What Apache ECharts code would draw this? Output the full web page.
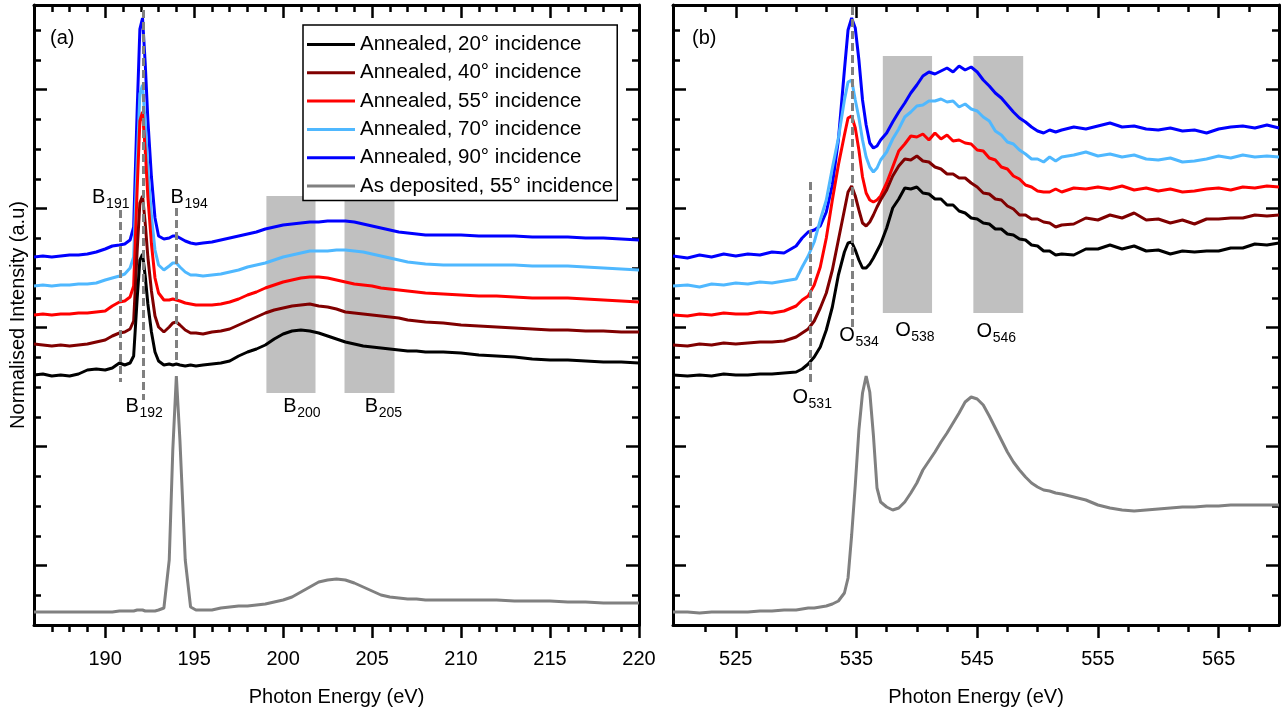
<!DOCTYPE html>
<html>
<head>
<meta charset="UTF-8">
<title>NEXAFS B K-edge and O K-edge</title>
<script src="https://cdn.jsdelivr.net/npm/echarts@6/dist/echarts.min.js"></script>
</head>
<body style="margin:0;background:#fff;">
<div id="main" style="width:1284px;height:711px;"></div>
<script>
const FONT = '"Liberation Sans", Arial, Helvetica, sans-serif';

// legend names and colours
const names = ['Annealed, 20° incidence', 'Annealed, 40° incidence', 'Annealed, 55° incidence',
  'Annealed, 70° incidence', 'Annealed, 90° incidence', 'As deposited, 55° incidence'];
const colors = ['#000000', '#800000', '#ff0000', '#4fb8ff', '#0000ff', '#808080'];

// ---- panel (a): B K-edge ----
const xB = [186, 186.5, 187, 187.5, 188, 188.5, 189, 189.5, 190, 190.4, 190.8,
  191.1, 191.4, 191.6, 191.8, 191.95, 192.1, 192.25, 192.4, 192.6, 192.8,
  193.0, 193.3, 193.6, 193.8, 194.0, 194.2, 194.5, 194.8, 195.1, 195.5,
  196, 196.5, 197, 197.5, 198, 198.5, 199, 199.5, 200, 200.5, 201, 201.5, 202, 202.5,
  203, 203.5, 204, 204.5, 205, 205.5, 206, 206.5, 207, 207.5,
  208, 209, 210, 211, 212, 213, 214, 215, 216, 217, 218, 219, 220];
const yB20 = [25.0, 25.1, 24.9, 25.0, 24.9, 25.1, 25.5, 25.6, 25.5, 25.7, 26.2,
  26.0, 26.2, 26.9, 32.7, 36.5, 37.1, 34.9, 32.1, 29.3, 27.3,
  26.4, 26.0, 26.1, 26.0, 26.1, 26.0, 25.9, 26.0, 25.9, 26.0,
  26.1, 26.2, 26.4, 26.9, 27.3, 27.6, 28.0, 28.6, 29.1, 29.4, 29.5, 29.4, 29.2, 28.9,
  28.6, 28.3, 28.1, 27.9, 27.8, 27.7, 27.6, 27.5, 27.4, 27.4,
  27.3, 27.3, 27.2, 27.0, 26.9, 26.8, 26.6, 26.5, 26.5, 26.4, 26.3, 26.3, 26.2];
const yB40 = [28.1, 28.0, 27.9, 28.0, 27.9, 28.0, 28.1, 28.3, 28.5, 28.9, 29.2,
  29.3, 29.6, 30.4, 37.5, 42.2, 42.9, 40.2, 36.8, 33.4, 30.9,
  29.8, 29.3, 29.8, 30.2, 30.3, 30.0, 29.5, 29.2, 29.2, 29.1,
  29.3, 29.4, 29.6, 30.0, 30.4, 30.8, 31.2, 31.5, 31.7, 31.9, 32.0, 32.1, 31.9, 31.8,
  31.6, 31.3, 31.2, 31.1, 31.0, 30.9, 30.8, 30.7, 30.5, 30.4,
  30.3, 30.2, 30.0, 29.9, 29.8, 29.7, 29.6, 29.5, 29.5, 29.4, 29.4, 29.3, 29.3];
const yB55 = [31.0, 31.1, 31.0, 31.1, 31.1, 31.2, 31.2, 31.3, 31.4, 31.9, 32.3,
  32.4, 32.8, 33.9, 43.7, 50.4, 51.3, 47.5, 42.8, 38.1, 34.7,
  33.2, 32.5, 32.5, 32.6, 32.5, 32.4, 32.2, 32.1, 32.0, 32.0,
  32.0, 32.1, 32.3, 32.6, 33.0, 33.3, 33.7, 34.0, 34.3, 34.5, 34.7, 34.8, 34.8, 34.7,
  34.5, 34.3, 34.1, 34.0, 33.9, 33.7, 33.6, 33.5, 33.4, 33.3,
  33.2, 33.1, 33.0, 32.9, 32.9, 32.8, 32.7, 32.7, 32.7, 32.6, 32.5, 32.4, 32.3];
const yB70 = [33.9, 34.0, 33.9, 34.0, 34.0, 34.1, 34.1, 34.2, 34.5, 34.7, 34.9,
  35.1, 35.7, 36.8, 46.5, 53.1, 54.0, 50.3, 45.6, 40.9, 37.5,
  36.0, 35.5, 35.9, 36.2, 36.2, 35.8, 35.3, 35.0, 35.0, 34.9,
  35.0, 35.1, 35.3, 35.5, 35.8, 36.0, 36.2, 36.5, 36.8, 37.0, 37.2, 37.4, 37.4, 37.4,
  37.5, 37.5, 37.4, 37.3, 37.1, 36.9, 36.7, 36.5, 36.3, 36.2,
  36.1, 36.0, 36.0, 36.0, 36.0, 36.0, 35.9, 35.9, 35.9, 35.8, 35.7, 35.6, 35.5];
const yB90 = [36.8, 36.9, 36.8, 36.9, 37.0, 37.0, 37.1, 37.3, 37.6, 37.9, 38.0,
  38.1, 38.5, 39.8, 51.6, 59.6, 60.7, 56.2, 50.5, 44.8, 40.7,
  38.9, 38.6, 38.7, 38.9, 38.9, 38.7, 38.4, 38.2, 38.1, 38.2,
  38.3, 38.5, 38.7, 38.9, 39.1, 39.3, 39.6, 39.8, 40.0, 40.1, 40.2, 40.3, 40.3, 40.4,
  40.4, 40.4, 40.3, 40.1, 39.9, 39.7, 39.5, 39.3, 39.2, 39.1,
  39.0, 39.0, 39.0, 38.9, 38.9, 38.9, 38.8, 38.8, 38.8, 38.7, 38.7, 38.6, 38.5];
const yBdep = [1.3, 1.3, 1.3, 1.3, 1.3, 1.3, 1.3, 1.3, 1.3, 1.3, 1.4,
  1.4, 1.4, 1.4, 1.5, 1.5, 1.5, 1.4, 1.4, 1.4, 1.4,
  1.5, 1.7, 6.5, 17.5, 24.9, 18.5, 6.5, 1.8, 1.5, 1.5,
  1.5, 1.7, 1.8, 1.9, 1.9, 2.0, 2.1, 2.3, 2.5, 2.8, 3.3, 3.8, 4.3, 4.5,
  4.6, 4.5, 4.2, 3.8, 3.4, 3.0, 2.8, 2.7, 2.6, 2.6,
  2.5, 2.5, 2.5, 2.5, 2.5, 2.4, 2.4, 2.4, 2.3, 2.3, 2.2, 2.2, 2.2];

// ---- panel (b): O K-edge ----
const xO = [519.8, 521, 522, 523, 524, 525, 526, 527, 528, 529, 530,
  530.5, 531, 531.5, 532, 532.5, 533, 533.5, 534,
  534.3, 534.6, 534.9, 535.2, 535.5, 535.8, 536.1, 536.4, 536.7, 537,
  537.5, 538, 538.5, 539, 539.5, 540, 540.5, 541, 541.5, 542, 542.5, 543, 543.5, 544, 544.5,
  545, 545.5, 546, 546.5, 547, 547.5, 548, 548.5, 549, 549.5, 550, 550.5, 551, 551.5, 552,
  553, 554, 555, 556, 557, 558, 559, 560, 561, 562, 563, 564, 565, 566, 567, 568, 569, 570];
const yO20 = [25.0, 24.9, 25.0, 24.9, 25.1, 25.0, 25.0, 25.1, 25.1, 25.2, 25.3,
  25.6, 26.1, 26.8, 27.8, 29.5, 31.8, 35.0, 37.3,
  38.2, 38.3, 37.5, 36.5, 35.7, 35.7, 36.1, 36.7, 37.4, 38.1,
  39.7, 41.7, 42.6, 43.7, 43.6, 43.8, 43.2, 43.1, 42.6, 42.6, 42.0, 42.0, 41.4, 41.2, 40.7,
  40.6, 40.2, 40.1, 39.6, 39.6, 39.1, 39.0, 38.6, 38.5, 38.0, 37.9, 37.4, 37.4, 37.0, 37.1,
  37.0, 37.6, 37.6, 38.0, 37.6, 37.9, 37.4, 37.5, 37.1, 37.4, 37.3, 37.4, 37.4, 37.7, 37.7, 38.1, 38.0, 38.2];
const yO40 = [28.0, 27.9, 28.1, 28.0, 28.2, 28.1, 28.2, 28.3, 28.3, 28.4, 28.8,
  29.2, 29.6, 30.4, 31.7, 33.2, 35.5, 38.5, 41.5,
  43.3, 43.9, 42.9, 41.5, 40.2, 39.9, 40.3, 41.0, 41.8, 42.5,
  43.5, 44.9, 45.9, 46.6, 46.5, 46.9, 46.4, 46.3, 45.8, 45.6, 45.1, 45.1, 44.7, 44.7, 44.2,
  43.8, 43.2, 43.1, 42.6, 42.5, 41.9, 41.6, 41.0, 41.0, 40.6, 40.6, 40.3, 40.2, 39.8, 40.0,
  40.1, 40.7, 40.5, 41.0, 40.7, 41.2, 40.5, 40.6, 40.2, 40.5, 40.1, 40.6, 40.6, 40.7, 40.7, 41.0, 40.9, 41.0];
const yO55 = [31.0, 30.9, 31.1, 31.0, 31.2, 31.1, 31.1, 31.3, 31.2, 31.4, 31.9,
  32.5, 32.9, 34.0, 35.8, 38.7, 42.5, 46.0, 49.0,
  50.7, 50.9, 49.7, 47.5, 44.8, 43.2, 42.5, 42.3, 42.5, 42.9,
  44.2, 45.8, 47.4, 48.1, 48.9, 48.8, 49.1, 48.5, 49.2, 48.6, 49.0, 48.4, 48.5, 48.2, 48.1,
  47.5, 47.4, 46.7, 46.5, 45.8, 45.6, 44.9, 44.6, 44.0, 43.8, 43.4, 43.3, 43.3, 43.6, 43.3,
  43.7, 43.6, 43.8, 43.6, 43.9, 43.5, 43.7, 43.4, 43.6, 43.3, 43.4, 43.6, 43.7, 43.5, 43.8, 43.7, 43.9, 43.8];
const yO70 = [33.9, 34.0, 33.8, 34.1, 34.0, 34.2, 34.1, 34.3, 34.2, 34.4, 34.6,
  35.8, 36.9, 38.3, 40.5, 42.5, 45.7, 48.7, 52.5,
  54.3, 54.5, 52.5, 50.7, 48.5, 46.8, 45.8, 45.3, 45.7, 46.5,
  47.3, 48.6, 49.6, 50.8, 51.3, 51.9, 52.0, 52.4, 52.4, 52.6, 52.3, 52.4, 51.8, 52.1, 51.6,
  51.4, 50.8, 50.4, 49.4, 49.0, 48.3, 48.1, 47.5, 47.1, 46.6, 46.6, 46.3, 46.8, 46.4, 46.8,
  47.0, 47.3, 46.9, 47.1, 46.8, 47.0, 46.6, 46.5, 46.7, 46.3, 46.4, 46.6, 46.9, 46.7, 47.0, 46.8, 46.9, 46.8];
const yO90 = [36.9, 36.7, 37.0, 36.8, 37.1, 36.9, 37.1, 37.0, 37.3, 37.2, 37.9,
  38.7, 39.3, 39.5, 39.9, 41.3, 44.0, 48.5, 55.5,
  59.5, 60.7, 59.7, 56.5, 52.5, 50.0, 48.2, 47.7, 47.9, 48.5,
  49.2, 50.3, 51.3, 52.2, 53.2, 54.0, 54.9, 55.3, 55.1, 55.4, 55.7, 55.3, 55.9, 55.5, 55.8,
  55.3, 54.5, 53.9, 53.2, 52.7, 52.0, 51.3, 50.7, 50.3, 49.8, 49.4, 49.2, 49.5, 49.3, 49.5,
  49.8, 49.6, 49.9, 50.2, 49.8, 49.9, 49.6, 49.5, 49.7, 49.4, 49.5, 49.2, 49.6, 49.8, 49.9, 49.7, 50.0, 49.7];
const yOdep = [1.3, 1.3, 1.2, 1.3, 1.3, 1.3, 1.3, 1.4, 1.4, 1.5, 1.5,
  1.6, 1.7, 1.7, 1.8, 1.9, 2.1, 2.4, 3.2,
  4.7, 9.0, 14.0, 19.5, 23.2, 24.9, 23.3, 19.0, 13.7, 12.3,
  11.8, 11.5, 11.7, 12.3, 13.2, 14.2, 15.5, 16.4, 17.3, 18.3, 19.2, 20.2, 21.2, 22.3, 22.8,
  22.6, 22.0, 20.9, 19.7, 18.5, 17.3, 16.3, 15.5, 14.8, 14.2, 13.8, 13.5, 13.4, 13.2, 13.1,
  12.8, 12.5, 12.0, 11.7, 11.5, 11.4, 11.5, 11.6, 11.7, 11.8, 11.8, 11.9, 11.9, 12.0, 12.0, 12.0, 12.0, 12.0];

// ticks (no y labels, ticks only)
const xMajorB = [190, 195, 200, 205, 210, 215, 220];
const xMinorB = [187, 188, 189, 190, 191, 192, 193, 194, 195, 196, 197, 198, 199, 200, 201, 202, 203,
  204, 205, 206, 207, 208, 209, 210, 211, 212, 213, 214, 215, 216, 217, 218, 219];
const xMajorO = [525, 535, 545, 555, 565];
const xMinorO = [522.5, 527.5, 530, 532.5, 537.5, 540, 542.5, 547.5, 550, 552.5, 557.5, 560, 562.5, 567.5];
const yMajor = [5.95, 17.85, 29.75, 41.65, 53.55];
const yMinor = [2.975, 5.95, 8.925, 11.9, 14.875, 17.85, 20.825, 23.8, 26.775, 29.75, 32.725,
  35.7, 38.675, 41.65, 44.625, 47.6, 50.575, 53.55, 56.525, 59.5];

// annotations: dashed lines [x, yTop, yBottom], shaded bands [x0, x1, yTop, yBottom], labels [main, sub, x, y]
const dashB = [[190.84, 41.5, 24.3], [192.15, 61.5, 22.5], [193.99, 41.7, 26.3]];
const areaB = [[199.06, 201.82, 42.9, 23.2], [203.45, 206.26, 42.9, 23.2]];
const labelB = [['B', '191', 189.64, 42.8], ['B', '194', 194.04, 42.8], ['B', '192', 191.52, 21.85],
  ['B', '200', 200.38, 21.85], ['B', '205', 204.96, 21.85]];
const dashO = [[531.18, 44.3, 24.3], [534.68, 61.8, 29.7]];
const areaO = [[537.18, 541.26, 56.9, 31.2], [544.68, 548.81, 56.9, 31.2]];
const labelO = [['O', '531', 530.34, 22.75], ['O', '534', 534.22, 29.0], ['O', '538', 538.85, 29.5],
  ['O', '546', 545.59, 29.4]];

const chart = echarts.init(document.getElementById('main'));

const tickStyle = { color: '#000', width: 2.5 };
const lineStyleAx = { color: '#000', width: 3 };

function xAxes(grid, min, max, major, minor) {
  const base = { type: 'value', gridIndex: grid, min: min, max: max, splitLine: { show: false },
    axisLabel: { show: false }, axisLine: { show: false, onZero: false } };
  return [
    Object.assign({}, base, {
      position: 'bottom',
      axisLine: { show: true, onZero: false, lineStyle: lineStyleAx },
      axisTick: { show: true, inside: false, length: 13, customValues: major, lineStyle: tickStyle },
      axisLabel: { show: true, customValues: major, margin: 24, fontSize: 20, color: '#000', fontFamily: FONT },
      name: 'Photon Energy (eV)', nameLocation: 'middle', nameGap: 62,
      nameTextStyle: { fontSize: 20, color: '#000', fontFamily: FONT }
    }),
    Object.assign({}, base, { position: 'bottom',
      axisTick: { show: true, inside: false, length: 7, customValues: minor, lineStyle: tickStyle } }),
    Object.assign({}, base, { position: 'top',
      axisLine: { show: true, onZero: false, lineStyle: lineStyleAx },
      axisTick: { show: true, inside: true, length: 13, customValues: major, lineStyle: tickStyle } }),
    Object.assign({}, base, { position: 'top',
      axisTick: { show: true, inside: true, length: 7, customValues: minor, lineStyle: tickStyle } })
  ];
}

function yAxes(grid, withName) {
  const base = { type: 'value', gridIndex: grid, min: 0, max: 62, splitLine: { show: false },
    axisLabel: { show: false }, axisLine: { show: false, onZero: false } };
  const left = Object.assign({}, base, { position: 'left',
    axisLine: { show: true, onZero: false, lineStyle: lineStyleAx },
    axisTick: { show: true, inside: true, length: 13, customValues: yMajor, lineStyle: tickStyle } });
  if (withName) {
    left.name = 'Normalised Intensity (a.u)';
    left.nameLocation = 'middle';
    left.nameGap = 6;
    left.nameTextStyle = { fontSize: 20, color: '#000', fontFamily: FONT };
  }
  return [
    left,
    Object.assign({}, base, { position: 'left',
      axisTick: { show: true, inside: true, length: 7, customValues: yMinor, lineStyle: tickStyle } }),
    Object.assign({}, base, { position: 'right',
      axisLine: { show: true, onZero: false, lineStyle: lineStyleAx },
      axisTick: { show: true, inside: true, length: 13, customValues: yMajor, lineStyle: tickStyle } }),
    Object.assign({}, base, { position: 'right',
      axisTick: { show: true, inside: true, length: 7, customValues: yMinor, lineStyle: tickStyle } })
  ];
}

function lineSeries(xs, ys, i, axisIdx) {
  return {
    type: 'line', name: names[i], xAxisIndex: axisIdx, yAxisIndex: axisIdx,
    data: xs.map((x, k) => [x, ys[k]]),
    symbol: 'none', showSymbol: false, silent: true,
    lineStyle: { color: colors[i], width: 3 }, itemStyle: { color: colors[i] }
  };
}

function labelPoints(list) {
  const out = [];
  list.forEach(function (a) {
    const dx = a[0] === 'O' ? 20 : 19;
    out.push({ coord: [a[2], a[3]], label: { formatter: a[0], fontSize: 20 } });
    out.push({ coord: [a[2], a[3]], label: { formatter: a[1], fontSize: 14, offset: [dx, 7] } });
  });
  return out;
}

function annotSeries(axisIdx, dashes, areas, labels) {
  return {
    type: 'line', name: 'annot' + axisIdx, xAxisIndex: axisIdx, yAxisIndex: axisIdx, data: [], silent: true,
    markArea: {
      silent: true, itemStyle: { color: '#c0c0c0', opacity: 1 },
      data: areas.map(a => [{ coord: [a[0], a[2]] }, { coord: [a[1], a[3]] }])
    },
    markLine: {
      silent: true, symbol: ['none', 'none'], label: { show: false },
      lineStyle: { color: '#808080', width: 3, type: [8, 4] },
      emphasis: { disabled: true },
      data: dashes.map(d => [{ coord: [d[0], d[1]] }, { coord: [d[0], d[2]] }])
    },
    markPoint: {
      silent: true, symbol: 'circle', symbolSize: 1, itemStyle: { color: 'rgba(0,0,0,0)' },
      label: { show: true, position: 'inside', color: '#000', fontFamily: FONT },
      data: labelPoints(labels)
    }
  };
}

const ysB = [yB20, yB40, yB55, yB70, yB90, yBdep];
const ysO = [yO20, yO40, yO55, yO70, yO90, yOdep];
const drawOrder = [4, 3, 2, 1, 0, 5];

const series = [annotSeries(0, dashB, areaB, labelB), annotSeries(4, dashO, areaO, labelO)];
drawOrder.forEach(i => series.push(lineSeries(xB, ysB[i], i, 0)));
drawOrder.forEach(i => series.push(lineSeries(xO, ysO[i], i, 4)));

const titleStyle = { fontSize: 20, fontWeight: 'normal', color: '#000', fontFamily: FONT };

chart.setOption({
  animation: false,
  backgroundColor: '#fff',
  title: [
    { text: '(a)', left: 50, top: 28, padding: 0, textStyle: titleStyle },
    { text: '(b)', left: 692, top: 28, padding: 0, textStyle: titleStyle }
  ],
  legend: {
    data: names, orient: 'vertical', left: 303, top: 25, padding: [9, 4, 4, 4],
    itemGap: 7.3, itemWidth: 48, itemHeight: 3, icon: 'rect', selectedMode: false,
    borderColor: '#000', borderWidth: 1.5, borderRadius: 0, backgroundColor: '#fff',
    textStyle: { fontSize: 20.5, color: '#000', fontFamily: FONT }
  },
  grid: [
    { left: 34, top: 5, width: 605, height: 620, outerBoundsMode: 'none' },
    { left: 673, top: 5, width: 606, height: 620, outerBoundsMode: 'none' }
  ],
  xAxis: xAxes(0, 186, 220, xMajorB, xMinorB).concat(xAxes(1, 519.8, 570, xMajorO, xMinorO)),
  yAxis: yAxes(0, true).concat(yAxes(1, false)),
  series: series
});

window.addEventListener('resize', function () { chart.resize(); });
</script>
</body>
</html>
